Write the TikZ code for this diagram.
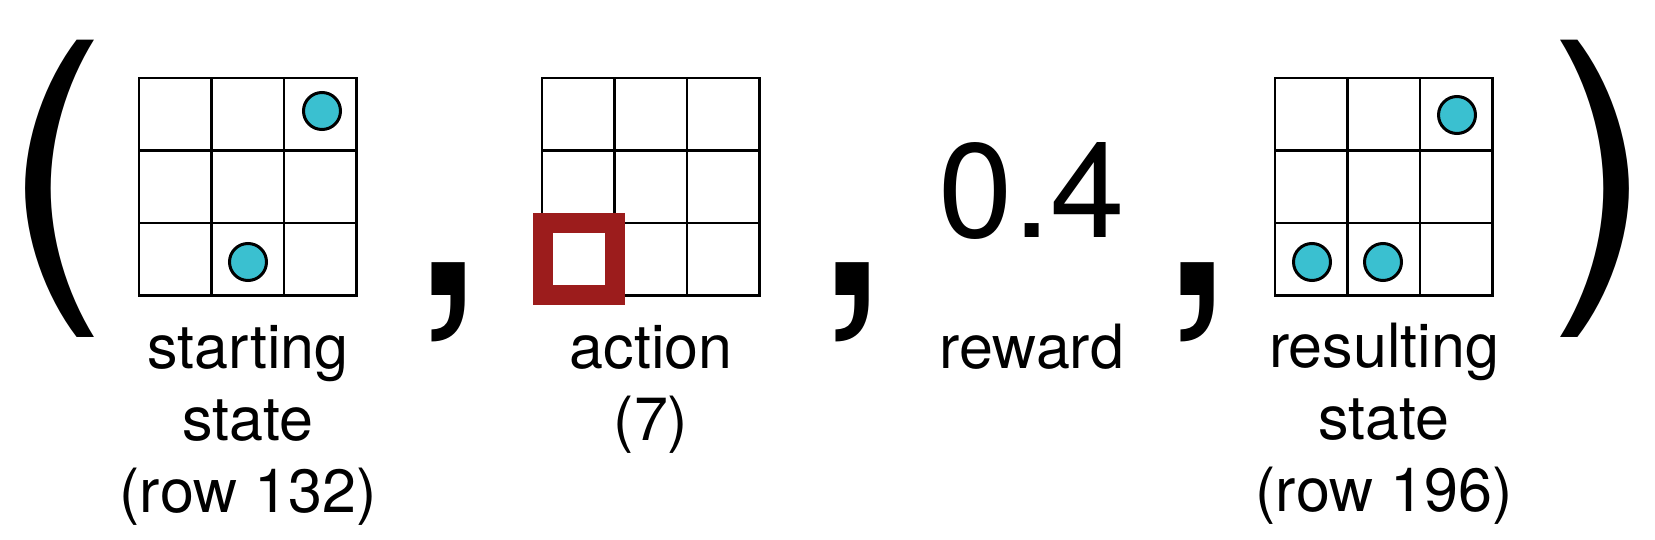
\documentclass[tikz,border=0pt]{standalone}
\usepackage{fontspec}
\setmainfont{TeX Gyre Heros}
\definecolor{dotcyan}{RGB}{58,192,208}
\definecolor{actred}{RGB}{156,28,28}
\begin{document}
\begin{tikzpicture}[x=1pt,y=-1pt,
  gridline/.style={line width=2.8pt, line cap=rect},
  dot/.style={draw=black, line width=3pt, fill=dotcyan},
  big/.style={inner sep=0pt, anchor=base, font=\fontsize{316}{316}\selectfont},
  lab/.style={inner sep=0pt, anchor=base, align=center, font=\fontsize{61}{72}\selectfont}]
\useasboundingbox[fill=white] (0,0) rectangle (1655,540);

\foreach \gx in {139,542,1275}{
  \foreach \i in {0,...,3}{
    \draw[gridline] ({\gx+72.5*\i},78) -- ({\gx+72.5*\i},295.5);
    \draw[gridline] (\gx,{78+72.5*\i}) -- ({\gx+217.5},{78+72.5*\i});
  }
}

\draw[dot] (322,111) circle[radius=18.5pt];
\draw[dot] (248,262) circle[radius=18.5pt];
\draw[dot] (1457,115) circle[radius=18.5pt];
\draw[dot] (1312,262) circle[radius=18.5pt];
\draw[dot] (1383,262) circle[radius=18.5pt];

\draw[line width=20pt, draw=actred] (543,223) rectangle (615,295);

\node[big] (lp) at (55,271) {(};
\node[big] (rp) at (1601,271) {)};
\node[big] (c1) at (448,295) {,};
\node[big] (c2) at (852,295) {,};
\node[big] (c3) at (1197,295) {,};
\node[inner sep=0pt, anchor=base, font=\fontsize{134}{134}\selectfont] (rw) at (1032,238) {0.4};
\node[lab] (l1) at (248,512) {starting\\state\\(row 132)};
\node[lab] (l2) at (651,440) {action\\(7)};
\node[lab] (l3) at (1032,368) {reward};
\node[lab] (l4) at (1384,511) {resulting\\state\\(row 196)};
\end{tikzpicture}
\end{document}
